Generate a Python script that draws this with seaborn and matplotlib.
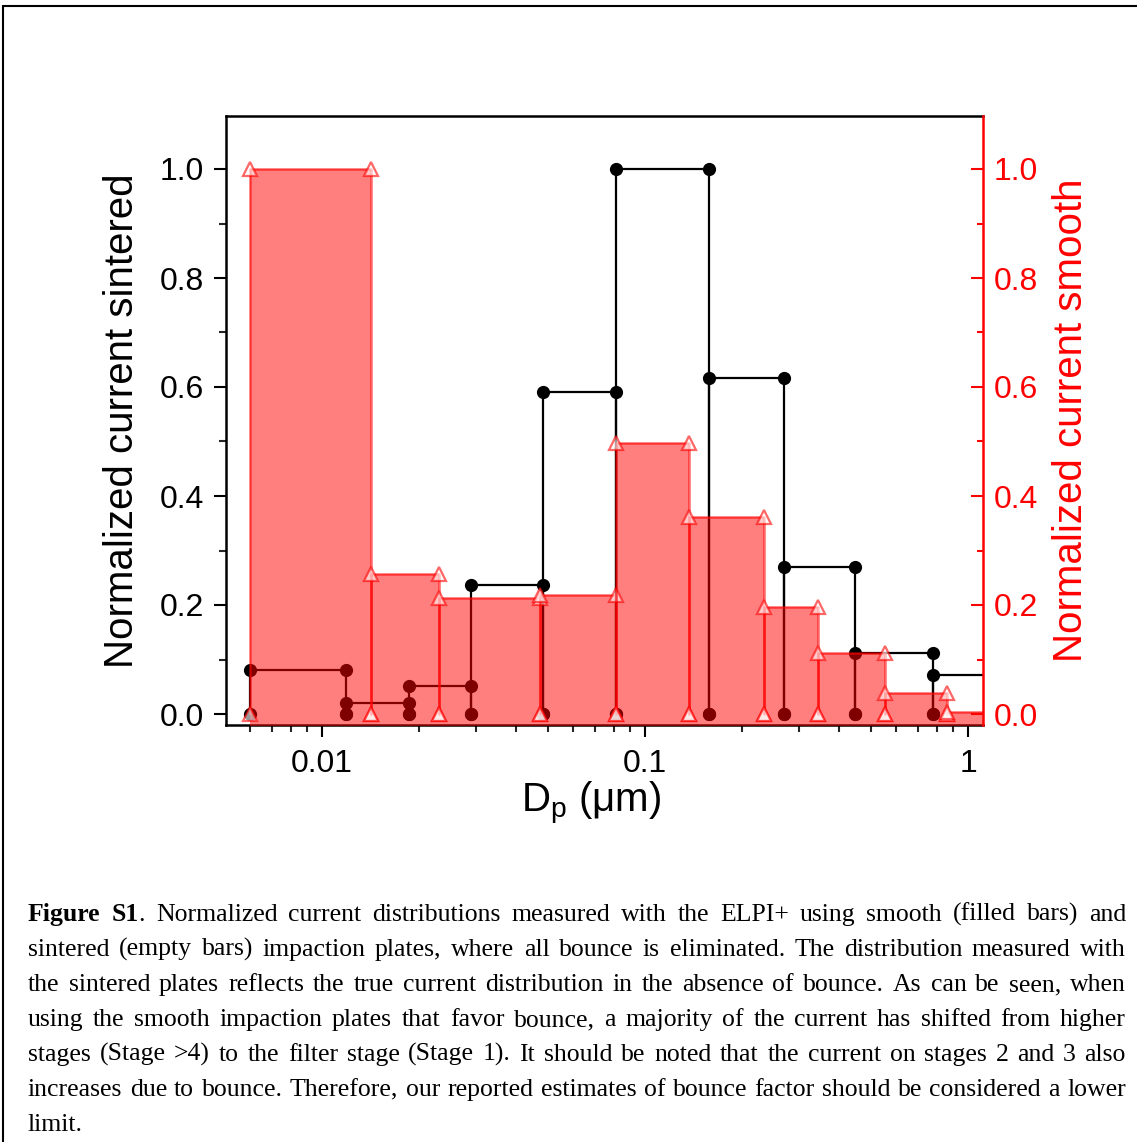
import numpy as np
import pandas as pd
import matplotlib
matplotlib.use("Agg")
import matplotlib.pyplot as plt
import seaborn as sns
from matplotlib.ticker import FixedLocator, MultipleLocator, NullFormatter, FixedFormatter
from matplotlib.patches import Rectangle
from matplotlib.transforms import IdentityTransform

# ---------------- data ----------------
smooth_edges = [0.006, 0.0142, 0.0230, 0.0473, 0.0813, 0.1368, 0.2334, 0.3436, 0.553, 0.861, 1.4]
smooth_values = [1.0, 0.257, 0.213, 0.218, 0.497, 0.361, 0.196, 0.112, 0.0385, 0.003]
sintered_edges = [0.006, 0.0119, 0.0186, 0.0289, 0.0483, 0.0813, 0.1577, 0.269, 0.4467, 0.78, 1.3]
sintered_values = [0.081, 0.020, 0.051, 0.237, 0.591, 1.0, 0.617, 0.270, 0.112, 0.0716]

x_ticks = [0.01, 0.1, 1]
x_tick_labels = ["0.01", "0.1", "1"]
y_ticks = [0.0, 0.2, 0.4, 0.6, 0.8, 1.0]
y_tick_labels = ["0.0", "0.2", "0.4", "0.6", "0.8", "1.0"]

left_label = "Normalized current sintered"
right_label = "Normalized current smooth"
x_label = r"D$_\mathregular{p}$ (μm)"

caption_lines = [
    [[("Figure", "bold")], [("S1", "bold"), (".", "normal")], "Normalized", "current", "distributions",
     "measured", "with", "the", "ELPI+", "using", "smooth", "(filled", "bars)", "and"],
    "sintered (empty bars) impaction plates, where all bounce is eliminated. The distribution measured with",
    "the sintered plates reflects the true current distribution in the absence of bounce. As can be seen, when",
    "using the smooth impaction plates that favor bounce, a majority of the current has shifted from higher",
    "stages (Stage >4) to the filter stage (Stage 1). It should be noted that the current on stages 2 and 3 also",
    "increases due to bounce. Therefore, our reported estimates of bounce factor should be considered a lower",
    "limit.",
]


def bar_vertices(edges, values):
    rows = []
    for i, h in enumerate(values):
        xl, xr = edges[i], edges[i + 1]
        for x, y in [(xl, 0.0), (xl, h), (xr, h), (xr, 0.0)]:
            rows.append({"bar": i, "x": x, "y": y})
    return pd.DataFrame(rows)


df_sint = bar_vertices(sintered_edges, sintered_values)
df_smooth = bar_vertices(smooth_edges, smooth_values)

# ---------------- figure ----------------
sns.set_theme(style="ticks")
plt.rcParams["font.family"] = ["Liberation Sans", "DejaVu Sans"]
plt.rcParams["mathtext.default"] = "regular"

W, H = 1137, 1142
fig = plt.figure(figsize=(W / 100, H / 100), dpi=100)
fig.patch.set_facecolor("white")

ax_l, ax_r, ax_t, ax_b = 226, 983, 116, 725
ax = fig.add_axes([ax_l / W, 1 - ax_b / H, (ax_r - ax_l) / W, (ax_b - ax_t) / H])
ax.set_xscale("log")
xlim = (10 ** (-2 - (322 - ax_l) / 323), 10 ** ((ax_r - 968) / 323))
ylim = ((714 - ax_b) / 545, (714 - ax_t) / 545)
ax.set_xlim(*xlim)
ax.set_ylim(*ylim)

# sintered (empty bars) - black, below the translucent fill
sns.lineplot(data=df_sint, x="x", y="y", units="bar", estimator=None, sort=False,
             color="black", lw=1.6, marker="o", markersize=9.5, markeredgewidth=0,
             ax=ax, zorder=2, legend=False)

ax2 = ax.twinx()
ax2.set_xscale("log")
ax2.set_xlim(*xlim)
ax2.set_ylim(*ylim)

# smooth (filled bars)
xs = np.array(smooth_edges)
ys = np.r_[smooth_values, smooth_values[-1]]
ax2.fill_between(xs, ys, ylim[0] - 0.1, step="post", color=(1, 0, 0), alpha=0.5, lw=0, zorder=3)
sns.lineplot(data=df_smooth, x="x", y="y", units="bar", estimator=None, sort=False,
             color=(1, 0, 0), alpha=0.6, lw=1.8, marker="^", markersize=10.5,
             markerfacecolor="white", markeredgecolor=(1, 0, 0), markeredgewidth=1.6,
             ax=ax2, zorder=4, legend=False)
ax2.set_xlim(*xlim)
ax2.set_ylim(*ylim)
ax.set_xlim(*xlim)
ax.set_ylim(*ylim)

# ---------------- axes styling ----------------
tick_fs = 23
label_fs = 29
for a in (ax, ax2):
    a.set_xlabel("")
    a.set_ylabel("")
    a.grid(False)

ax.xaxis.set_major_locator(FixedLocator(x_ticks))
ax.xaxis.set_major_formatter(FixedFormatter(x_tick_labels))
minor_x = [m * 10.0 ** e for e in (-3, -2, -1, 0) for m in range(2, 10)]
ax.xaxis.set_minor_locator(FixedLocator(minor_x))
ax.xaxis.set_minor_formatter(NullFormatter())
ax.yaxis.set_major_locator(FixedLocator(y_ticks))
ax.yaxis.set_major_formatter(FixedFormatter(y_tick_labels))
ax.yaxis.set_minor_locator(MultipleLocator(0.1))

ax2.yaxis.set_major_locator(FixedLocator(y_ticks))
ax2.yaxis.set_major_formatter(FixedFormatter(y_tick_labels))
ax2.yaxis.set_minor_locator(MultipleLocator(0.1))

ax.tick_params(axis="x", which="major", direction="out", length=8.6, width=1.5, labelsize=tick_fs,
               colors="black", pad=9)
ax.tick_params(axis="x", which="minor", direction="out", length=5, width=1.5)
ax.tick_params(axis="y", which="major", direction="out", length=8.6, width=1.5, labelsize=tick_fs,
               colors="black", pad=7)
ax.tick_params(axis="y", which="minor", direction="out", length=5, width=1.5)
ax2.tick_params(axis="y", which="major", direction="in", length=8.6, width=1.5, labelsize=tick_fs,
                colors="red", pad=8)
ax2.tick_params(axis="y", which="minor", direction="in", length=4.5, width=1.5, colors="red")
ax2.tick_params(axis="x", which="both", bottom=False, top=False, labelbottom=False)

for s in ("left", "bottom", "top"):
    ax.spines[s].set_visible(True)
    ax.spines[s].set_color("black")
    ax.spines[s].set_linewidth(1.8)
ax.spines["right"].set_visible(False)
for s in ("left", "bottom", "top"):
    ax2.spines[s].set_visible(False)
ax2.spines["right"].set_visible(True)
ax2.spines["right"].set_color("red")
ax2.spines["right"].set_linewidth(1.8)

ax.set_ylabel(left_label, fontsize=label_fs, labelpad=14, color="black")
ax2.set_ylabel(right_label, fontsize=label_fs, labelpad=10, color="red")
ax.set_xlabel(x_label, fontsize=label_fs, color="black")
ax.xaxis.label.set_va("baseline")
ax.xaxis.set_label_coords((591 - ax_l) / (ax_r - ax_l), -(812 - ax_b) / (ax_b - ax_t))

# ---------------- caption (justified) ----------------
renderer = fig.canvas.get_renderer()
cap_fs = 18.5
cap_family = ["Liberation Serif", "DejaVu Serif"]
x0, x1 = 28, 1126
base0 = H - 921
line_h = 35


def to_words(line):
    if isinstance(line, str):
        return [[(w, "normal")] for w in line.split(" ")]
    out = []
    for w in line:
        out.append([(w, "normal")] if isinstance(w, str) else w)
    return out


def piece_width(text, weight):
    t = fig.text(0, 0, text, fontsize=cap_fs, family=cap_family, weight=weight,
                 transform=IdentityTransform())
    w = t.get_window_extent(renderer).width
    t.remove()
    return w


space_w = piece_width("a a", "normal") - 2 * piece_width("a", "normal")
for li, line in enumerate(caption_lines):
    words = to_words(line)
    widths = [[piece_width(p, wt) for p, wt in word] for word in words]
    totals = [sum(w) for w in widths]
    last = li == len(caption_lines) - 1
    if last or len(words) < 2:
        gap = space_w
    else:
        gap = (x1 - x0 - sum(totals)) / (len(words) - 1)
    x = x0
    y = base0 - li * line_h
    for word, wlist in zip(words, widths):
        xp = x
        for (p, wt), pw in zip(word, wlist):
            fig.text(xp, y, p, fontsize=cap_fs, family=cap_family, weight=wt,
                     transform=IdentityTransform(), ha="left", va="baseline", color="black")
            xp += pw
        x += sum(wlist) + gap

# outer frame
frame = Rectangle((3, -20), 1300, (H - 6) + 20, transform=IdentityTransform(), fill=False,
                  edgecolor="black", lw=1.5, clip_on=False)
fig.add_artist(frame)

fig.savefig("out.png", dpi=100, facecolor="white")
